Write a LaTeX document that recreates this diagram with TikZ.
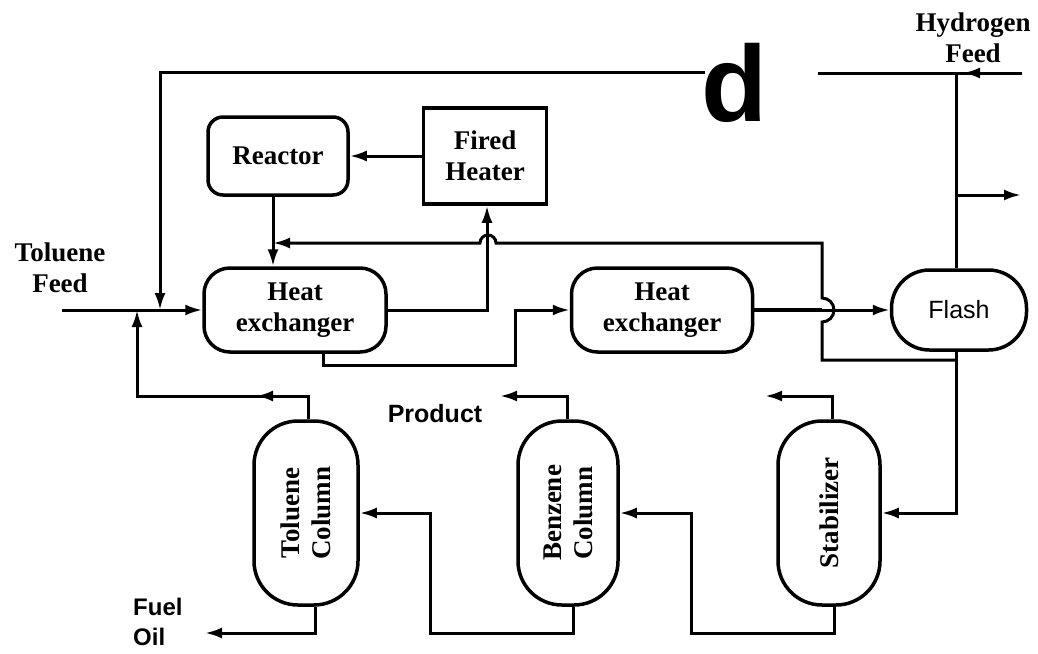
\documentclass[tikz,border=0pt]{standalone}
\usepackage{fontspec}
\setmainfont{Liberation Serif}
\newfontfamily\lsans{Liberation Sans}
\usetikzlibrary{arrows.meta}
\begin{document}
\begin{tikzpicture}[x=1pt,y=-1pt,
  flow/.style={line width=3pt},
  arr/.style={-{Latex[length=17pt,width=11pt]}},
  unitbox/.style={draw,line width=3.5pt,inner sep=0pt,align=center,
    font=\fontsize{27}{31}\selectfont\bfseries},
  serlab/.style={align=center,inner sep=0pt,font=\fontsize{27}{31}\selectfont\bfseries},
  sanslab/.style={align=left,inner sep=0pt,font=\lsans\bfseries\fontsize{24}{30}\selectfont}
]
\useasboundingbox (0,0) rectangle (1038,653);

% units
\node[unitbox,rounded corners=15pt,minimum width=140pt,minimum height=78pt] (reactor) at (278,156) {Reactor};
\node[unitbox,minimum width=123pt,minimum height=96pt] (heater) at (485,156) {Fired\\Heater};
\node[unitbox,rounded corners=26pt,minimum width=182pt,minimum height=84pt] (hx1) at (295,310) {Heat\\exchanger};
\node[unitbox,rounded corners=26pt,minimum width=181pt,minimum height=84pt] (hx2) at (662,310) {Heat\\exchanger};
\node[unitbox,rounded corners=38pt,minimum width=135pt,minimum height=80pt,font=\lsans\fontsize{25}{30}\selectfont] (flash) at (959,310) {Flash};
\node[unitbox,rounded corners=44pt,minimum width=104pt,minimum height=184pt] (tcol) at (306,513) {};
\node[unitbox,rounded corners=44pt,minimum width=100pt,minimum height=184pt] (bcol) at (568,513) {};
\node[unitbox,rounded corners=44pt,minimum width=102pt,minimum height=184pt] (stab) at (829,513) {};
\node[serlab,rotate=90] (tcoltxt) at (tcol) {Toluene\\Column};
\node[serlab,rotate=90] (bcoltxt) at (bcol) {Benzene\\Column};
\node[serlab,rotate=90] (stabtxt) at (stab) {Stabilizer};

% labels
\node[serlab] (tfeed) at (60,268) {Toluene\\Feed};
\node[serlab] (hfeed) at (973,38) {Hydrogen\\Feed};
\node[sanslab,font=\lsans\bfseries\fontsize{25}{30}\selectfont] (product) at (435,414) {Product};
\node[sanslab,anchor=west] (fuel) at (133,622) {Fuel\\Oil};
\node[font=\lsans\bfseries\fontsize{108}{110}\selectfont,anchor=base,inner sep=0pt] (d) at (734,121) {d};

% coordinates
\coordinate (feedin) at (62,310);
\coordinate (jA) at (160,310);
\coordinate (jB) at (137,310);
\coordinate (topL) at (705,72);
\coordinate (topR) at (818,73);
\coordinate (h2in) at (1022,73);
\coordinate (h2arr) at (963,73);
\coordinate (fv) at (956,73);
\coordinate (purgeA) at (956,195);
\coordinate (purgeB) at (1021,195);
\coordinate (rx) at (273,243);
\coordinate (hx) at (487,310);
\coordinate (jL) at (956,360);
\coordinate (tolrec) at (308,396);
\coordinate (tolarr) at (256,396);
\coordinate (fueloil) at (205,633);
\coordinate (prod) at (500,396);
\coordinate (stabtop) at (765,396);

% feed
\draw[flow,arr] (feedin) -- (hx1.west);
% top recycle
\draw[flow,arr] (topL) -| (jA);
% hydrogen feed and flash vapour
\draw[flow] (h2in) -- (topR);
\draw[flow,arr] (h2in) -- (h2arr);
\draw[flow] (flash.north -| fv) -- (fv);
\draw[flow,arr] (purgeA) -- (purgeB);
% heater -> reactor -> hx1
\draw[flow,arr] (heater.west) -- (reactor.east);
\draw[flow,arr] (reactor.south -| rx) -- (hx1.north -| rx);
% hx1 -> heater
\draw[flow,arr] (hx1.east) -- (hx) -- (heater.south -| hx);
% hx1 -> hx2
\draw[flow,arr] (hx1.south -| 323,0) -- (323,365) -- (515,365) -- (515,310) -- (hx2.west);
% hx2 -> flash
\draw[line width=4.5pt] (hx2.east) -- (822,310);
\draw[flow,arr] (822,310) -- (flash.west);
% flash liquid -> stabilizer
\draw[flow,arr] (flash.south -| jL) -- (jL |- stab.east) -- (stab.east);
% recycle from flash bottom to reactor outlet
\draw[flow,arr] (jL) -- (822,360) -- (822,322)
  arc[start angle=-90,end angle=90,radius=12pt] -- (822,243) -- (496,243)
  arc[start angle=0,end angle=180,radius=8pt] -- (rx);
% toluene column overhead -> feed
\draw[flow,arr] (tcol.north -| tolrec) -- (tolrec) -- (jB |- tolrec) -- (jB);
\draw[flow,arr] (tolrec) -- (tolarr);
% toluene column bottoms -> fuel oil
\draw[flow,arr] (tcol.south -| 315,0) -- (315,633) -- (fueloil);
% benzene column
\draw[flow,arr] (bcol.south -| 573,0) -- (573,633) -- (430,633) -- (430,513) -- (tcol.east);
\draw[flow,arr] (bcol.north -| 567,0) -- (567,396) -- (prod);
% stabilizer
\draw[flow,arr] (stab.south -| 834,0) -- (834,633) -- (691,633) -- (691,513) -- (bcol.east);
\draw[flow,arr] (stab.north -| 832,0) -- (832,396) -- (stabtop);
\end{tikzpicture}
\end{document}
